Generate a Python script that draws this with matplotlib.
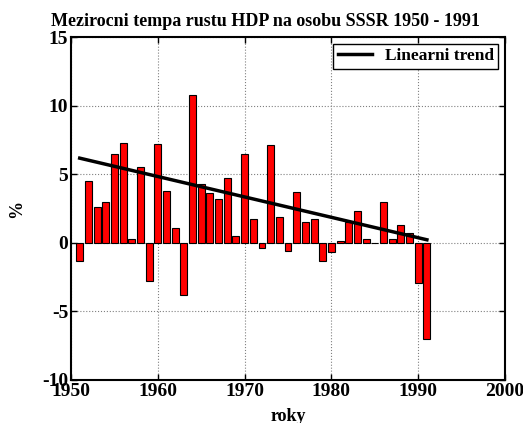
import matplotlib
matplotlib.use('Agg')
import matplotlib.pyplot as plt

# data
years = list(range(1951, 1992))
growth = [-1.3, 4.5, 2.6, 3.0, 6.5, 7.3, 0.3, 5.5, -2.8, 7.2,
          3.8, 1.1, -3.8, 10.8, 4.3, 3.6, 3.2, 4.7, 0.5, 6.5,
          1.7, -0.4, 7.1, 1.9, -0.6, 3.7, 1.5, 1.7, -1.3, -0.7,
          0.1, 1.5, 2.3, 0.3, 0.0, 3.0, 0.3, 1.3, 0.7, -2.9,
          -7.0]
trend_years = [1951, 1991]
trend_vals = [6.17, 0.22]

plt.rcParams['font.family'] = ['Liberation Serif', 'DejaVu Serif']
plt.rcParams['font.weight'] = 'bold'
plt.rcParams['axes.unicode_minus'] = False

fig = plt.figure(figsize=(5.23, 4.23), dpi=100)
ax = fig.add_axes([0.1358, 0.1017, 0.8298, 0.8108])

ax.bar(years, growth, width=0.8, color='red', edgecolor='black', linewidth=0.8, zorder=2)
ax.plot(trend_years, trend_vals, color='black', linewidth=2.5, label='Linearni trend', zorder=3)

ax.set_xlim(1950, 2000)
ax.set_ylim(-10, 15)
ax.set_xticks([1950, 1960, 1970, 1980, 1990, 2000])
ax.set_yticks([-10, -5, 0, 5, 10, 15])
ax.grid(True, linestyle=':', color='gray', linewidth=0.8, zorder=0)
ax.tick_params(direction='in', top=True, right=True, labelsize=14, length=4, width=1, pad=2)
for s in ax.spines.values():
    s.set_linewidth(1.5)

fig.text(0.507, 0.948, 'Mezirocni tempa rustu HDP na osobu SSSR 1950 - 1991',
         ha='center', va='center', fontsize=13, fontweight='bold')
ax.set_xlabel('roky', fontsize=13, fontweight='bold', labelpad=6)
ax.set_ylabel('%', fontsize=13, fontweight='bold', labelpad=12)

leg = ax.legend(loc='upper right', fancybox=False, framealpha=1, edgecolor='black',
                prop={'weight': 'bold', 'size': 12.5}, borderaxespad=0.4, handlelength=2.0,
                borderpad=0.25, handletextpad=0.7)
leg.get_frame().set_linewidth(1.0)

fig.savefig('out.png', dpi=100)
